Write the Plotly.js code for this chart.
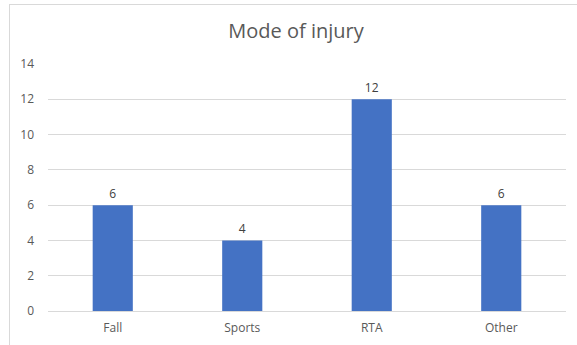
<!DOCTYPE html>
<html>
<head>
<meta charset="utf-8">
<script src="https://cdn.plot.ly/plotly-3.0.1.min.js"></script>
<style>
html,body{margin:0;padding:0;background:#fff;}
#wrap{position:relative;width:577px;height:345px;overflow:hidden;}
#chart{width:577px;height:345px;}
#frame{position:absolute;left:9px;top:4px;width:600px;height:400px;border:1px solid #d9d9d9;pointer-events:none;}
</style>
</head>
<body>
<div id="wrap"><div id="chart"></div><div id="frame"></div></div>
<script>
var categories = ["Fall", "Sports", "RTA", "Other"];
var values = [6, 4, 12, 6];
var yTicks = [0, 2, 4, 6, 8, 10, 12, 14];

var trace = {
  type: 'bar',
  x: categories,
  y: values,
  text: values.map(String),
  textposition: 'outside',
  cliponaxis: false,
  textfont: {family: 'Open Sans, Liberation Sans, sans-serif', size: 12, color: '#404040'},
  marker: {color: '#4472C4'},
  hoverinfo: 'none'
};

var layout = {
  width: 577, height: 345,
  margin: {l: 48, r: 11, t: 64, b: 34},
  paper_bgcolor: 'rgba(0,0,0,0)',
  plot_bgcolor: '#fff',
  bargap: 0.69,
  showlegend: false,
  font: {family: 'Open Sans, Liberation Sans, sans-serif', color: '#595959', size: 12},
  title: {text: 'Mode of injury', x: 0.513, xanchor: 'center', y: 0.91, yanchor: 'middle',
          font: {size: 20, color: '#595959', family: 'Open Sans, Liberation Sans, sans-serif'}},
  xaxis: {showgrid: false, showline: true, linecolor: '#d9d9d9', linewidth: 1, ticks: '',
          ticklabelstandoff: 6,
          tickfont: {size: 12, color: '#595959'}, fixedrange: true},
  yaxis: {range: [0, 14], tickvals: yTicks, showgrid: true, gridcolor: '#d9d9d9', gridwidth: 1,
          zeroline: false, showline: false, ticks: '', ticklabelstandoff: 13,
          tickfont: {size: 12, color: '#595959'}, fixedrange: true}
};

Plotly.newPlot('chart', [trace], layout, {displayModeBar: false, staticPlot: true});
</script>
</body>
</html>
